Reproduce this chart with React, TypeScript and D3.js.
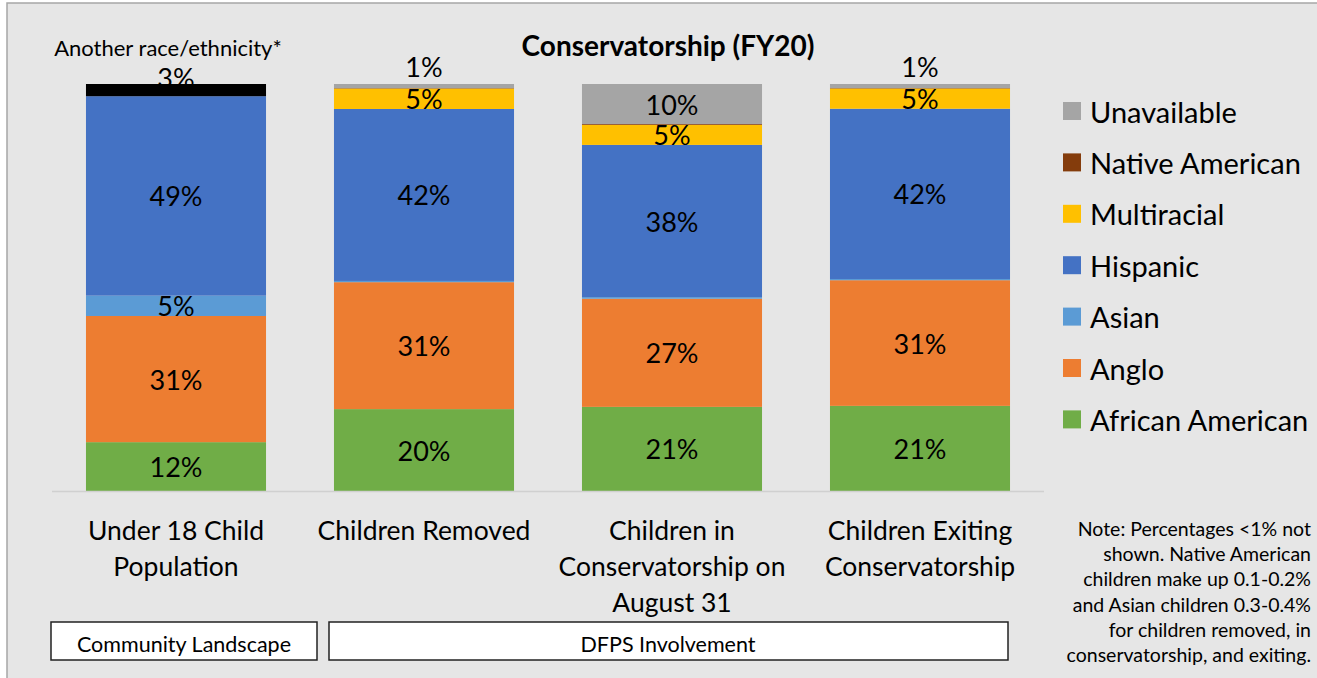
import React from 'react';
import * as d3 from 'd3';

// bars (x categories), each label split into lines
const categories = ['Under 18 Child Population', 'Children Removed', 'Children in Conservatorship on August 31', 'Children Exiting Conservatorship'];
const categoryLines = [
  ['Under 18 Child', 'Population'],
  ['Children Removed'],
  ['Children in', 'Conservatorship on', 'August 31'],
  ['Children Exiting', 'Conservatorship'],
];

// stack order, bottom to top
const groups = ['African American', 'Anglo', 'Asian', 'Hispanic', 'Multiracial', 'Native American', 'Unavailable', 'Another race/ethnicity*'];
const colors = ['#70ad47', '#ed7d31', '#5b9bd5', '#4472c4', '#ffc000', '#843c0c', '#a5a5a5', '#000000'];

// percent of each bar, per group
const africanAmerican = [12, 20, 21, 21];
const anglo = [31, 31, 27, 31];
const asian = [5, 0.3, 0.4, 0.3];
const hispanic = [49, 42, 38, 42];
const multiracial = [0, 5, 5, 5];
const nativeAmerican = [0, 0.1, 0.2, 0.1];
const unavailable = [0, 1, 10, 1];
const another = [3, 0, 0, 0];

const seriesValues = [africanAmerican, anglo, asian, hispanic, multiracial, nativeAmerican, unavailable, another];

// legend (top to bottom) leaves out the "another" group
const legendGroups = ['Unavailable', 'Native American', 'Multiracial', 'Hispanic', 'Asian', 'Anglo', 'African American'];

const noteLines = [
  'Note: Percentages <1% not',
  'shown. Native American',
  'children make up 0.1-0.2%',
  'and Asian children 0.3-0.4%',
  'for children removed, in',
  'conservatorship, and exiting.',
];

const FONT = 'Lato, "Open Sans", sans-serif';
const LABEL_SIZE = 27;

export default function App() {
  const width = 1317;
  const height = 678;

  const rows = categories.map((c, i) => {
    const r: any = { cat: c };
    groups.forEach((g, j) => { r[g] = seriesValues[j][i]; });
    return r;
  });

  const stacked = d3.stack<any>().keys(groups).offset(d3.stackOffsetExpand)(rows);

  const x = d3.scaleBand().domain(categories).range([52, 1044]).paddingInner(0.274).paddingOuter(0.137);
  const y = d3.scaleLinear().domain([0, 1]).range([491, 84]);
  const color = d3.scaleOrdinal<string, string>().domain(groups).range(colors);
  const cxOf = (i: number) => (x(categories[i]) as number) + x.bandwidth() / 2;

  // labels that sit above the bars (drawn first, bars may cover them)
  const aboveLabels: React.ReactNode[] = [];
  // labels centred inside segments
  const insideLabels: React.ReactNode[] = [];
  stacked.forEach((s, si) => {
    s.forEach((d, i) => {
      const v = seriesValues[si][i];
      if (v < 1) return;
      const cx = cxOf(i);
      if (s.key === 'Another race/ethnicity*') {
        aboveLabels.push(
          <text key={`an-${i}`} x={cx - 8} y={47} fontSize={22} textAnchor="middle" dominantBaseline="central">{s.key}</text>
        );
        aboveLabels.push(
          <text key={`av-${i}`} x={cx} y={77} fontSize={LABEL_SIZE} textAnchor="middle" dominantBaseline="central">{`${v}%`}</text>
        );
      } else if (s.key === 'Unavailable' && v < 2) {
        aboveLabels.push(
          <text key={`u-${i}`} x={cx} y={66} fontSize={LABEL_SIZE} textAnchor="middle" dominantBaseline="central">{`${v}%`}</text>
        );
      } else {
        insideLabels.push(
          <text key={`l-${si}-${i}`} x={cx} y={(y(d[0]) + y(d[1])) / 2} fontSize={LABEL_SIZE} textAnchor="middle" dominantBaseline="central">{`${v}%`}</text>
        );
      }
    });
  });

  return (
    <svg width={width} height={height} style={{ position: 'absolute', left: 0, top: 0 }} fontFamily={FONT}>
      <rect x={0} y={0} width={width} height={height} fill="#ffffff" />
      <rect x={7} y={3} width={width} height={height} fill="#e6e6e6" stroke="#a6a6a6" strokeWidth={1.5} />

      <text x={668} y={45} fontSize={28} fontWeight="bold" textAnchor="middle" dominantBaseline="central">Conservatorship (FY20)</text>

      <g fill="#000">{aboveLabels}</g>

      {stacked.map((s) => (
        <g key={s.key} fill={color(s.key)}>
          {s.map((d, i) => (
            <rect key={i} x={x(categories[i])} y={y(d[1])} width={x.bandwidth()} height={Math.max(0, y(d[0]) - y(d[1]))} />
          ))}
        </g>
      ))}

      <g fill="#000">{insideLabels}</g>

      <line x1={52} x2={1044} y1={491.5} y2={491.5} stroke="#d0d0d0" strokeWidth={1.5} />

      {categories.map((c, i) => (
        <text key={c} x={cxOf(i)} fontSize={26.5} textAnchor="middle">
          {categoryLines[i].map((ln, k) => (
            <tspan key={k} x={cxOf(i)} y={540 + k * 36}>{ln}</tspan>
          ))}
        </text>
      ))}

      <rect x={51} y={622} width={266} height={38} fill="#fff" stroke="#222" strokeWidth={1.5} />
      <text x={184} y={644} fontSize={21.5} textAnchor="middle" dominantBaseline="central">Community Landscape</text>
      <rect x={329} y={622} width={679} height={38} fill="#fff" stroke="#222" strokeWidth={1.5} />
      <text x={668} y={644} fontSize={21.5} textAnchor="middle" dominantBaseline="central">DFPS Involvement</text>

      {legendGroups.map((g, i) => {
        const cy = 111 + i * 51.4;
        return (
          <g key={g}>
            <rect x={1063} y={cy - 9} width={18} height={18} fill={color(g)} />
            <text x={1090} y={cy} fontSize={29} dominantBaseline="central">{g}</text>
          </g>
        );
      })}

      <text fontSize={19.5} textAnchor="end">
        {noteLines.map((ln, k) => (
          <tspan key={k} x={1311} y={536 + k * 25.2}>{ln}</tspan>
        ))}
      </text>
    </svg>
  );
}
